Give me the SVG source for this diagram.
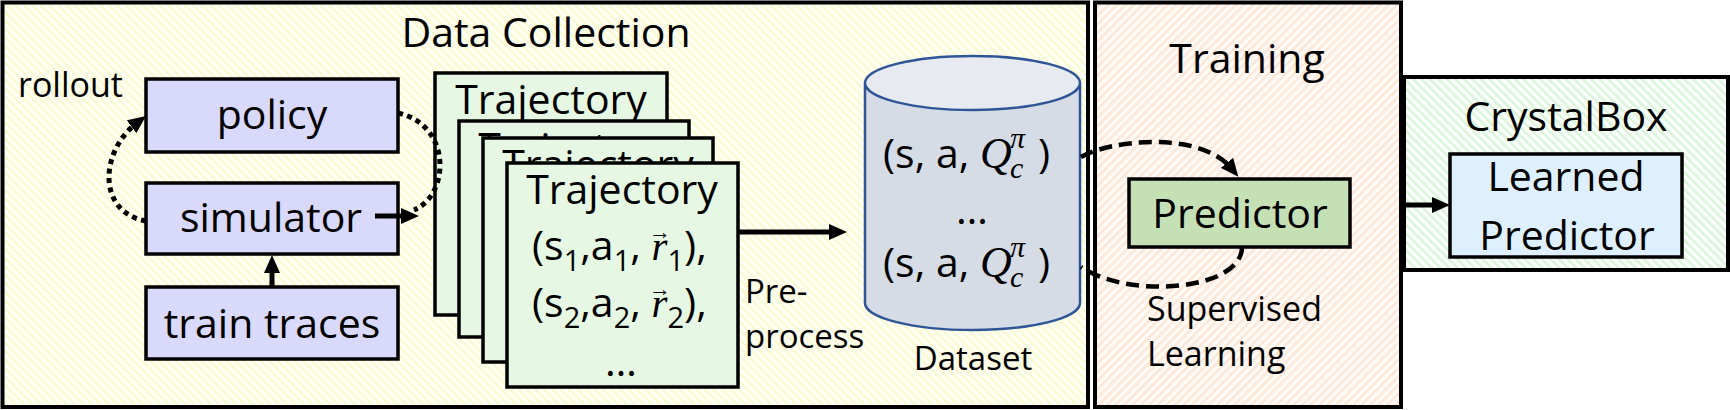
<svg xmlns="http://www.w3.org/2000/svg" width="1730" height="410" viewBox="0 0 1730 410">
<defs>
  <pattern id="hatchY" patternUnits="userSpaceOnUse" width="6" height="6" patternTransform="rotate(-45)">
    <rect width="6" height="6" fill="#fffff4"/>
    <rect width="2.4" height="6" fill="#f9f9d2"/>
  </pattern>
  <pattern id="hatchO" patternUnits="userSpaceOnUse" width="6" height="6" patternTransform="rotate(45)">
    <rect width="6" height="6" fill="#fffaf6"/>
    <rect width="2.4" height="6" fill="#fde6d6"/>
  </pattern>
  <pattern id="hatchG" patternUnits="userSpaceOnUse" width="6" height="6" patternTransform="rotate(-45)">
    <rect width="6" height="6" fill="#fbfffb"/>
    <rect width="2.4" height="6" fill="#d9f4d9"/>
  </pattern>
  <marker id="ah" viewBox="0 0 18 16" refX="8" refY="8" markerWidth="18" markerHeight="16" markerUnits="userSpaceOnUse" orient="auto">
    <path d="M0,0 L18,8 L0,16 z" fill="#000"/>
  </marker>
</defs>
<style>
  text{font-family:"Open Sans","Noto Sans",sans-serif;fill:#000}
  .f41{font-size:41px}
  .f34{font-size:34px}
  .f33{font-size:33px}
  .mid{text-anchor:middle}
  .math{font-family:"Liberation Serif","DejaVu Serif",serif;font-style:italic}
  .outer{stroke:#000;stroke-width:4}
  .box{stroke:#000;stroke-width:3.5}
  .lav{fill:#d9d9fb}
  .traj{fill:#e6f8e3}
  .solid{fill:none;stroke:#000;stroke-width:5}
  .dotted{fill:none;stroke:#000;stroke-width:5;stroke-dasharray:5 4.5}
  .dashed{fill:none;stroke:#000;stroke-width:4.5;stroke-dasharray:13 7}
</style>

<g id="data-collection">
  <rect class="outer" x="2.5" y="2.5" width="1085.5" height="404.5" fill="url(#hatchY)"/>
  <text class="f41 mid" x="546" y="47">Data Collection</text>
  <text class="f34" x="18" y="97">rollout</text>
  <text class="f33" x="745" y="303">Pre-</text>
  <text class="f33" x="745" y="348">process</text>
</g>

<g id="training">
  <rect class="outer" x="1095" y="2.5" width="306" height="404.5" fill="url(#hatchO)"/>
  <text class="f41 mid" x="1247" y="73">Training</text>
  <text class="f34" x="1147" y="321">Supervised</text>
  <text class="f34" x="1147" y="366">Learning</text>
</g>

<g id="crystalbox">
  <rect class="outer" x="1404" y="77" width="324" height="193" fill="url(#hatchG)"/>
  <text class="f41 mid" x="1566" y="131">CrystalBox</text>
</g>

<g id="policy">
  <rect class="box lav" x="146" y="79" width="252" height="73"/>
  <text class="f41 mid" x="272" y="129">policy</text>
</g>

<g id="simulator">
  <rect class="box lav" x="146" y="183" width="252" height="71"/>
  <text class="f41 mid" x="271" y="232">simulator</text>
</g>

<g id="train-traces">
  <rect class="box lav" x="146" y="287" width="252" height="72"/>
  <text class="f41 mid" x="272" y="338">train traces</text>
</g>

<g id="trajectories">
  <rect class="box traj" x="435" y="73" width="232" height="242"/>
  <text class="f41 mid" x="551" y="114">Trajectory</text>
  <rect class="box traj" x="459" y="121" width="230" height="216"/>
  <text class="f41 mid" x="574" y="162">Trajectory</text>
  <rect class="box traj" x="483" y="138" width="230" height="224"/>
  <text class="f41 mid" x="598" y="179">Trajectory</text>
  <rect class="box traj" x="507" y="163" width="231" height="224"/>
  <text class="f41 mid" x="622" y="204">Trajectory</text>
  <text class="f41" x="532" y="260">(s<tspan dy="11" font-size="29">1</tspan><tspan dy="-11">,a</tspan><tspan dy="11" font-size="29">1</tspan><tspan dy="-11">, </tspan><tspan class="math">r</tspan><tspan dy="11" font-size="29">1</tspan><tspan dy="-11">),</tspan></text>
  <text x="649" y="239" font-size="22" font-family="DejaVu Sans, sans-serif">→</text>
  <text class="f41" x="532" y="317">(s<tspan dy="11" font-size="29">2</tspan><tspan dy="-11">,a</tspan><tspan dy="11" font-size="29">2</tspan><tspan dy="-11">, </tspan><tspan class="math">r</tspan><tspan dy="11" font-size="29">2</tspan><tspan dy="-11">),</tspan></text>
  <text x="649" y="296" font-size="22" font-family="DejaVu Sans, sans-serif">→</text>
  <text class="f41 mid" x="621" y="376">…</text>
</g>

<g id="dataset">
  <path d="M865,83 V303 A107.5,27 0 0 0 1080,303 V83" fill="#d6dce5" stroke="#2f5597" stroke-width="2.5"/>
  <ellipse cx="972.5" cy="83" rx="107.5" ry="27" fill="#e7eaf0" stroke="#2f5597" stroke-width="2.5"/>
  <text class="f41" x="883" y="168">(s, a, </text>
  <text class="math" font-size="44" x="980" y="168">Q</text>
  <text class="math" font-size="30" x="1010" y="148">π</text>
  <text class="math" font-size="30" x="1010" y="178">c</text>
  <text class="f41" x="1038" y="168">)</text>
  <text class="f41 mid" x="972" y="224">…</text>
  <text class="f41" x="883" y="277">(s, a, </text>
  <text class="math" font-size="44" x="980" y="277">Q</text>
  <text class="math" font-size="30" x="1010" y="257">π</text>
  <text class="math" font-size="30" x="1010" y="287">c</text>
  <text class="f41" x="1038" y="277">)</text>
  <text class="f33 mid" x="973" y="370">Dataset</text>
</g>

<g id="predictor">
  <rect class="box" x="1129" y="179" width="221" height="68" fill="#c5e0b4"/>
  <text class="f41 mid" x="1240" y="228">Predictor</text>
</g>

<g id="learned-predictor">
  <rect class="box" x="1450" y="154" width="232" height="103" fill="#def0fd"/>
  <text class="f41 mid" x="1566" y="191">Learned</text>
  <text class="f41 mid" x="1567" y="250">Predictor</text>
</g>

<g id="connectors">
  <path class="solid" d="M272,287 V265" marker-end="url(#ah)"/>
  <path class="dotted" d="M146,221 C96,212 100,150 138,122" marker-end="url(#ah)"/>
  <path class="dotted" d="M398,113 C452,125 450,195 414,210"/>
  <path class="solid" d="M375,216 H409" marker-end="url(#ah)"/>
  <path class="solid" d="M738,232 H837" marker-end="url(#ah)"/>
  <path class="dashed" d="M1081,157 C1110,140 1200,130 1232,169" marker-end="url(#ah)"/>
  <path class="dashed" d="M1242,247 C1242,290 1130,300 1081,267"/>
  <path class="solid" d="M1403,205 H1440" marker-end="url(#ah)"/>
</g>
</svg>
